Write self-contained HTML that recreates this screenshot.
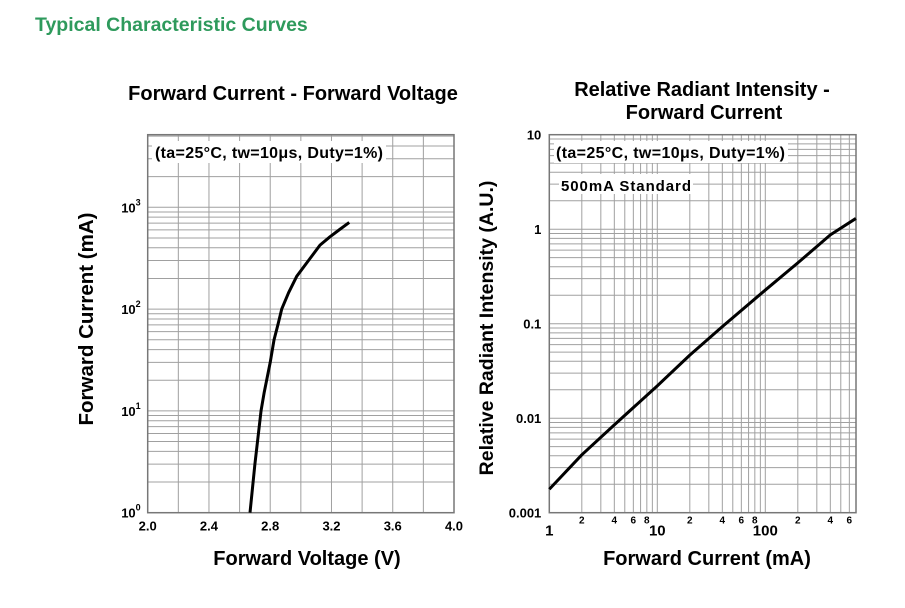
<!DOCTYPE html>
<html><head><meta charset="utf-8"><style>
body{margin:0;background:#fff;width:905px;height:603px;overflow:hidden;font-family:"Liberation Sans",Arial,sans-serif}
</style></head><body>
<svg id="svg" width="905" height="603" xmlns="http://www.w3.org/2000/svg" font-family="Liberation Sans, Arial, sans-serif">
<text x="35" y="31" font-size="19.5" font-weight="bold" fill="#2e9a5c">Typical Characteristic Curves</text>
<text x="293" y="100" font-size="20" font-weight="bold" text-anchor="middle">Forward Current - Forward Voltage</text>
<text x="702" y="96" font-size="20" font-weight="bold" text-anchor="middle">Relative Radiant Intensity -</text>
<text x="704" y="119" font-size="20" font-weight="bold" text-anchor="middle">Forward Current</text>
<text transform="translate(93,319) rotate(-90)" font-size="20.5" font-weight="bold" text-anchor="middle">Forward Current (mA)</text>
<text transform="translate(493,328) rotate(-90)" font-size="19.5" font-weight="bold" text-anchor="middle">Relative Radiant Intensity (A.U.)</text>
<text x="307" y="565" font-size="20" font-weight="bold" text-anchor="middle">Forward Voltage (V)</text>
<text x="707" y="565" font-size="20" font-weight="bold" text-anchor="middle">Forward Current (mA)</text>
<g id="L"></g><g id="R"></g>
</svg>
<script>
// Left chart data
const fvVoltage = [2.668, 2.70, 2.74, 2.76, 2.80, 2.825, 2.85, 2.875, 2.92, 2.973, 3.05, 3.125, 3.19, 3.25, 3.316];
const fvCurrent = [1, 3, 10, 15, 30, 50, 70, 100, 145, 210, 300, 425, 513, 600, 710];
const fvXTicks = ["2.0","2.4","2.8","3.2","3.6","4.0"];
const fvYTicks = ["0","1","2","3"];
// Right chart data
const riCurrent = [1, 2, 4, 10, 20, 40, 100, 200, 400, 690];
const riIntensity = [0.00177, 0.0041, 0.0085, 0.022, 0.0465, 0.093, 0.227, 0.44, 0.87, 1.30];
const riYTicks = ["10","1","0.1","0.01","0.001"];
const riXMinor = ["2","4","6","8"];

const NS="http://www.w3.org/2000/svg";
function mk(p,t,a){const e=document.createElementNS(NS,t);for(const k in a)e.setAttribute(k,a[k]);p.appendChild(e);return e;}
const GRID="#a0a0a0";

// LEFT
const L=document.getElementById('L');
const lx0=147.7,lx1=454,ly0=512.7,ly1=134.7,ldec=101.8;
const lxs=v=>lx0+(v-2)/2*(lx1-lx0);
const lys=i=>ly0-Math.log10(i)*ldec;
for(let v=2.2;v<3.99;v+=0.2){const l=mk(L,'line',{x1:lxs(v),x2:lxs(v),y1:ly1,y2:ly0,stroke:GRID,'stroke-width':1});
}
for(let d=0;d<4;d++)for(let m=1;m<10;m++){const val=m*Math.pow(10,d);const y=lys(val);if(y<ly1+1)continue;
const l=mk(L,'line',{x1:lx0,x2:lx1,y1:y,y2:y,stroke:GRID,'stroke-width':1});
}
let r=mk(L,'rect',{x:lx0,y:ly1,width:lx1-lx0,height:ly0-ly1,fill:'none',stroke:'#777','stroke-width':1.5});

fvXTicks.forEach(t=>{const e=mk(L,'text',{x:lxs(+t),y:ly0+18,'font-size':13,'font-weight':'bold','text-anchor':'middle'});e.textContent=t;
});
fvYTicks.forEach(t=>{const e=mk(L,'text',{x:lx0-7,y:lys(Math.pow(10,+t))+5,'font-size':13,'font-weight':'bold','text-anchor':'end'});
e.textContent='10';const s=mk(e,'tspan',{dy:-7,'font-size':9});s.textContent=t;
});
let bg=mk(L,'rect',{x:152,y:141,width:234,height:22,fill:'#fff'});

let an=mk(L,'text',{x:155,y:158,'font-size':16,'font-weight':'bold','textLength':228});an.textContent='(ta=25°C, tw=10μs, Duty=1%)';

let p=mk(L,'polyline',{points:fvVoltage.map((v,i)=>lxs(v)+','+lys(fvCurrent[i])).join(' '),fill:'none',stroke:'#000','stroke-width':3,'stroke-linejoin':'round'});


// RIGHT
const R=document.getElementById('R');
const rx0=549.3,rx1=856,rxdec=108,ry0=512.7,ry1=134.7,rydec=94.5;
const rxs=c=>rx0+Math.log10(c)*rxdec;
const rys=v=>ry0-(Math.log10(v)+3)*rydec;
for(let d=0;d<3;d++)for(let m=1;m<10;m++){const c=m*Math.pow(10,d);const x=rxs(c);if(x>rx1-1||x<rx0+1)continue;
const l=mk(R,'line',{x1:x,x2:x,y1:ry1,y2:ry0,stroke:GRID,'stroke-width':1});
}
for(let d=-3;d<1;d++)for(let m=1;m<10;m++){const v=m*Math.pow(10,d);const y=rys(v);if(y>ry0-1)continue;
const l=mk(R,'line',{x1:rx0,x2:rx1,y1:y,y2:y,stroke:GRID,'stroke-width':1});
}
r=mk(R,'rect',{x:rx0,y:ry1,width:rx1-rx0,height:ry0-ry1,fill:'none',stroke:'#777','stroke-width':1.5});

riYTicks.forEach(t=>{const e=mk(R,'text',{x:rx0-8,y:rys(+t)+5,'font-size':13,'font-weight':'bold','text-anchor':'end'});e.textContent=t;
});
["1","10","100"].forEach(t=>{const e=mk(R,'text',{x:rxs(+t),y:ry0+23,'font-size':15,'font-weight':'bold','text-anchor':'middle'});e.textContent=t;
});
for(let d=0;d<3;d++)riXMinor.forEach(t=>{const c=(+t)*Math.pow(10,d);if(rxs(c)>rx1)return;
const e=mk(R,'text',{x:rxs(c),y:ry0+11,'font-size':10,'font-weight':'bold','text-anchor':'middle'});e.textContent=t;
});
bg=mk(R,'rect',{x:554,y:141,width:234,height:22,fill:'#fff'});

an=mk(R,'text',{x:556,y:158,'font-size':16,'font-weight':'bold','textLength':229});an.textContent='(ta=25°C, tw=10μs, Duty=1%)';

bg=mk(R,'rect',{x:559,y:174,width:134,height:20,fill:'#fff'});

an=mk(R,'text',{x:561,y:191,'font-size':15,'font-weight':'bold','textLength':130});an.textContent='500mA Standard';

p=mk(R,'polyline',{points:riCurrent.map((c,i)=>rxs(c)+','+rys(riIntensity[i])).join(' '),fill:'none',stroke:'#000','stroke-width':3,'stroke-linejoin':'round'});

</script>
</body></html>
